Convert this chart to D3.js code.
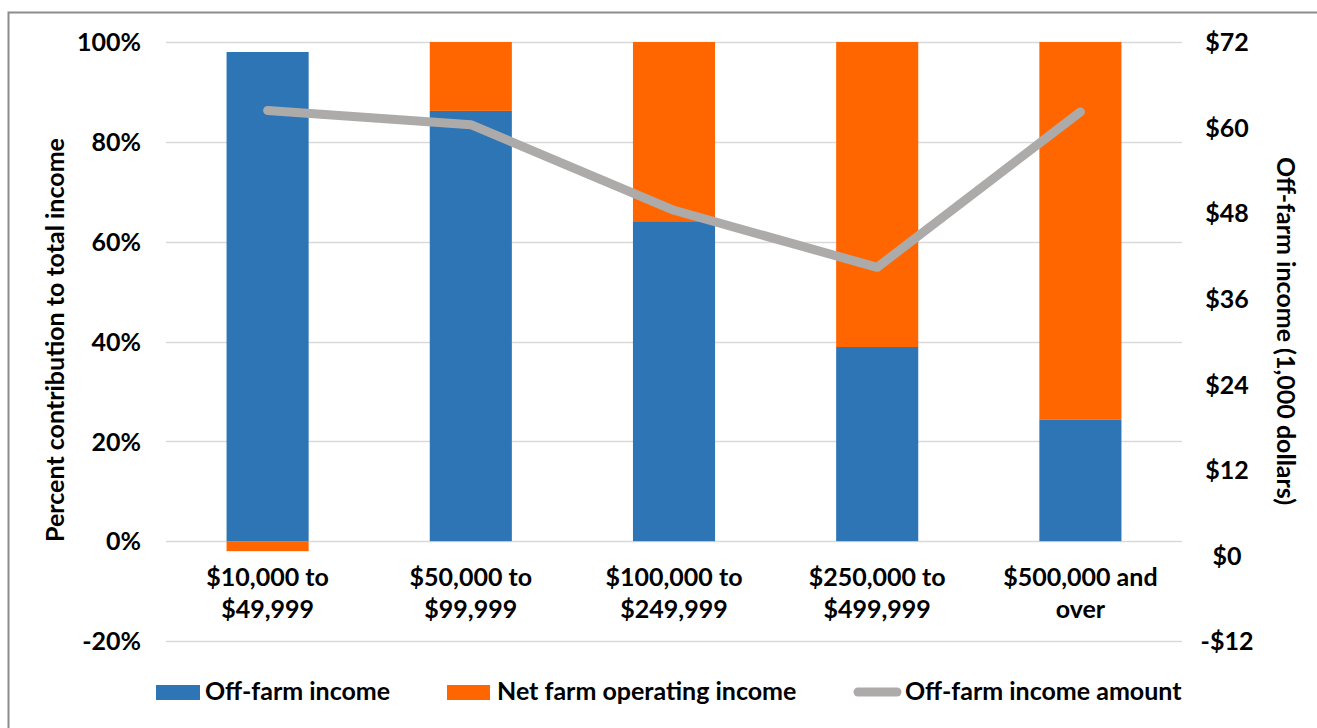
<!DOCTYPE html>
<html><head><meta charset="utf-8">
<script src="https://cdn.jsdelivr.net/npm/d3@7"></script>
<style>
body{margin:0;background:#fff;}
text{font-family:Lato,"Open Sans",sans-serif;font-weight:bold;fill:#000;}
</style></head>
<body><svg id="c" width="1317" height="728"></svg>
<script>
const categories = [["$10,000 to","$49,999"],["$50,000 to","$99,999"],["$100,000 to","$249,999"],["$250,000 to","$499,999"],["$500,000 and","over"]];
const offFarmPct = [98, 86.2, 64.1, 38.9, 24.4];
const netFarmPct = [-2, 13.8, 35.9, 61.1, 75.6];
const offFarmAmount = [62.4, 60.4, 48.4, 40.4, 62.2];
const leftTicks = [-20, 0, 20, 40, 60, 80, 100];
const rightTicks = [-12, 0, 12, 24, 36, 48, 60, 72];
const seriesNames = ["Off-farm income", "Net farm operating income", "Off-farm income amount"];
const colors = ["#2e75b6", "#ff6600", "#adaaaa"];
const FS = "25px";

const svg = d3.select("#c");
svg.append("rect").attr("x",8.5).attr("y",12.5).attr("width",1320).attr("height",730)
  .attr("fill","none").attr("stroke","#8c8c8c").attr("stroke-width",2);

const L = 166, R = 1182, T = 42, B = 641;
const x = d3.scaleBand().domain(d3.range(categories.length)).range([L, R]).paddingInner(0.596).paddingOuter(0.298);
const y = d3.scaleLinear().domain([-20, 100]).range([B, T]);
const y2 = d3.scaleLinear().domain([-12, 72]).range([B, T]);

// gridlines
svg.append("g").selectAll("line").data(leftTicks).join("line")
  .attr("x1", L).attr("x2", R).attr("y1", d => Math.round(y(d))+0.5).attr("y2", d => Math.round(y(d))+0.5)
  .attr("stroke", "#d9d9d9").attr("stroke-width", 1.5);

// left axis
const ax = d3.axisLeft(y).tickValues(leftTicks).tickFormat(d => d + "%").tickSize(0).tickPadding(0);
const gL = svg.append("g").attr("transform", `translate(141,0)`).call(ax);
gL.select(".domain").remove();
gL.selectAll("text").style("font-size",FS).attr("dy","0.35em");

// right axis
const ax2 = d3.axisRight(y2).tickValues(rightTicks).tickFormat(d => (d < 0 ? "-$" : "$") + Math.abs(d)).tickSize(0).tickPadding(0);
const gR = svg.append("g").attr("transform", `translate(1227,0)`).call(ax2);
gR.select(".domain").remove();
gR.selectAll("text").style("font-size",FS).attr("text-anchor","middle").attr("dy","0.35em");

// bars
const bars = svg.append("g");
categories.forEach((c, i) => {
  const o = offFarmPct[i], n = netFarmPct[i];
  bars.append("rect").attr("x", x(i)).attr("width", x.bandwidth())
    .attr("y", y(o)).attr("height", y(0) - y(o)).attr("fill", colors[0]);
  if (n >= 0) {
    bars.append("rect").attr("x", x(i)).attr("width", x.bandwidth())
      .attr("y", y(o + n)).attr("height", y(o) - y(o + n)).attr("fill", colors[1]);
  } else {
    bars.append("rect").attr("x", x(i)).attr("width", x.bandwidth())
      .attr("y", y(0)).attr("height", y(n) - y(0)).attr("fill", colors[1]);
  }
});

// line
const line = d3.line().x((d, i) => x(i) + x.bandwidth() / 2).y(d => y2(d));
svg.append("path").datum(offFarmAmount).attr("d", line).attr("fill", "none")
  .attr("stroke", colors[2]).attr("stroke-width", 9).attr("stroke-linecap", "round").attr("stroke-linejoin", "round");

// category labels
const cl = svg.append("g");
categories.forEach((c, i) => {
  const t = cl.append("text").attr("x", x(i) + x.bandwidth() / 2).attr("y", 586)
    .attr("text-anchor", "middle").style("font-size", FS);
  t.append("tspan").attr("x", x(i) + x.bandwidth() / 2).text(c[0]);
  t.append("tspan").attr("x", x(i) + x.bandwidth() / 2).attr("dy", 32).text(c[1]);
});

// axis titles
svg.append("text").attr("transform", `translate(64,340) rotate(-90)`)
  .attr("text-anchor", "middle").style("font-size", FS).text("Percent contribution to total income");
svg.append("text").attr("transform", `translate(1277,331) rotate(90)`)
  .attr("text-anchor", "middle").style("font-size", FS).text("Off-farm income (1,000 dollars)");

// legend
const lg = svg.append("g");
lg.append("rect").attr("x", 156).attr("y", 685).attr("width", 44).attr("height", 15).attr("fill", colors[0]);
lg.append("text").attr("x", 205).attr("y", 700).style("font-size", FS).text(seriesNames[0]);
lg.append("rect").attr("x", 447).attr("y", 685).attr("width", 43).attr("height", 15).attr("fill", colors[1]);
lg.append("text").attr("x", 497).attr("y", 700).style("font-size", FS).text(seriesNames[1]);
lg.append("line").attr("x1", 858).attr("x2", 897).attr("y1", 692).attr("y2", 692)
  .attr("stroke", colors[2]).attr("stroke-width", 9).attr("stroke-linecap", "round");
lg.append("text").attr("x", 905).attr("y", 700).style("font-size", FS).text(seriesNames[2]);
</script></body></html>
